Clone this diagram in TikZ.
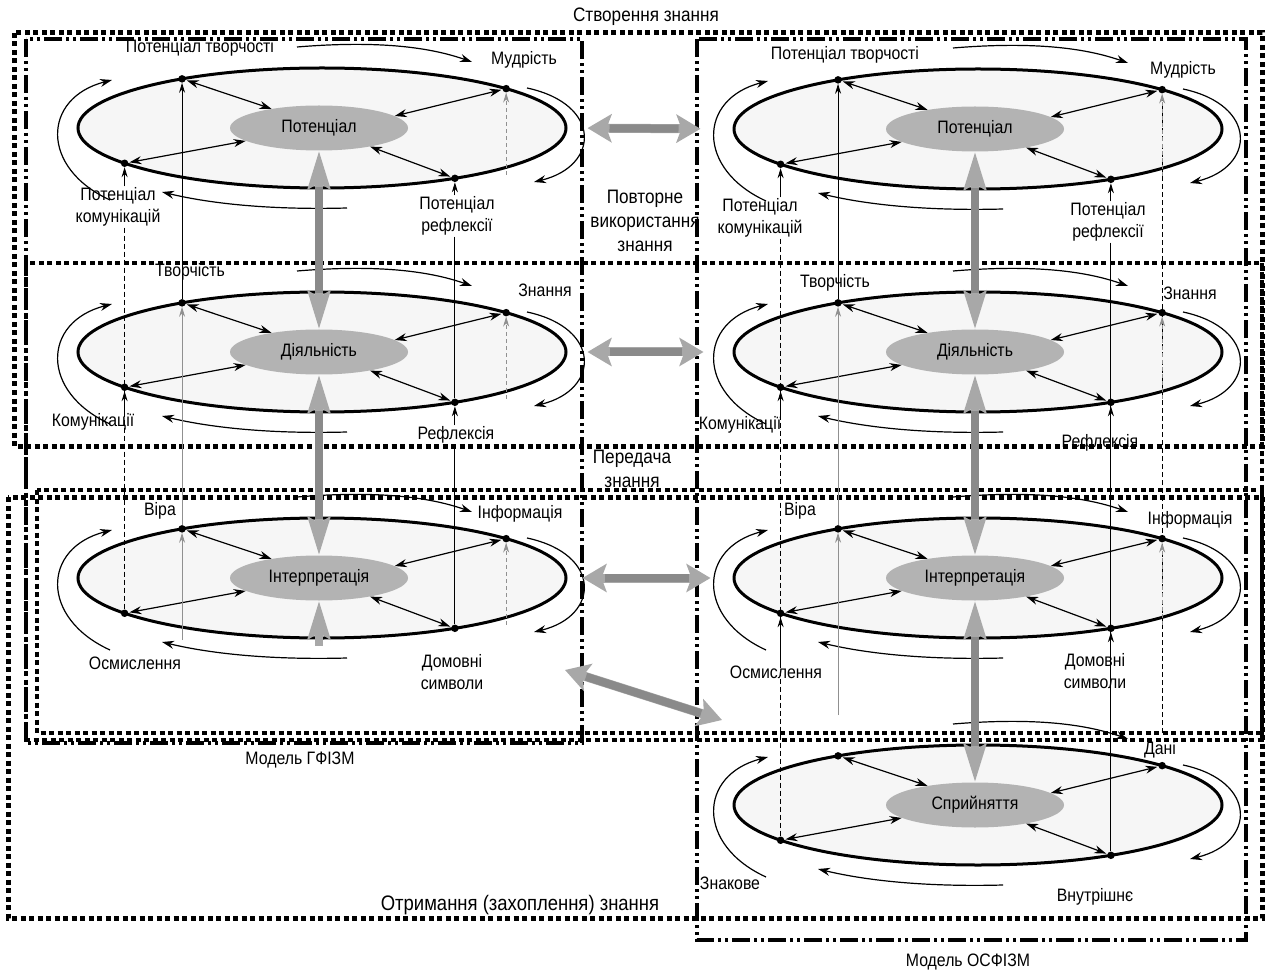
\documentclass[tikz,border=0pt]{standalone}
\usepackage{fontspec}
\setmainfont[FakeStretch=0.88]{Liberation Sans}
\usetikzlibrary{arrows.meta,shapes.geometric,calc}
\definecolor{innergray}{HTML}{B3B3B3}
\definecolor{outerfill}{HTML}{F6F6F6}
\definecolor{headgray}{HTML}{A8A8A8}
\definecolor{shaftgray}{HTML}{8A8A8A}
\definecolor{lgray}{HTML}{909090}
\tikzset{
 lab/.style={font=\fontsize{18}{22}\selectfont, inner sep=1pt, align=center},
 biglab/.style={font=\fontsize{19.5}{24}\selectfont, inner sep=1pt, align=center},
 outer/.style={ellipse, draw, line width=3pt, fill=outerfill, minimum width=488pt, minimum height=120pt, inner sep=0pt},
 inner/.style={ellipse, fill=innergray, minimum width=178pt, minimum height=45pt, inner sep=0pt, font=\fontsize{18}{20}\selectfont},
 dot/.style={circle, fill=black, minimum size=7.5pt, inner sep=0pt},
 dbl/.style={line width=1.2pt, shorten <=1pt, {Stealth[length=12pt,width=8pt]}-{Stealth[length=12pt,width=8pt]}},
 rot/.style={line width=1.2pt, -{Stealth[length=12pt,width=8pt]}},
 thinar/.style={line width=0.9pt, -{Stealth[length=10pt,width=6pt]}},
 thinln/.style={line width=0.9pt},
 grayar/.style={line width=0.9pt, draw=lgray, -{Stealth[length=10pt,width=6pt]}},
 graydash/.style={line width=0.9pt, draw=lgray, dash pattern=on 4pt off 3pt, -{Stealth[length=10pt,width=6pt]}},
 dashln/.style={line width=0.9pt, dash pattern=on 5pt off 3pt},
 procbox/.style={line width=5pt, dash pattern=on 5pt off 3.5pt},
 procboxthin/.style={line width=4pt, dash pattern=on 5pt off 3.5pt},
 modelbox/.style={line width=3.6pt, dash pattern=on 18pt off 4pt on 3pt off 4pt on 3pt off 4pt},
 bigarr/.style={line width=8pt, draw=headgray, {Stealth[length=38pt,width=22pt,inset=6pt]}-{Stealth[length=38pt,width=22pt,inset=6pt]}},
 bigarrh/.style={line width=9pt, draw=headgray, {Stealth[length=24pt,width=28pt,inset=5pt]}-{Stealth[length=24pt,width=28pt,inset=5pt]}},
 bigone/.style={line width=8pt, draw=headgray, -{Stealth[length=38pt,width=22pt,inset=6pt]}},
 shaft/.style={line width=8pt, draw=shaftgray},
}
\newcommand\knrow[4]{%
 \node[outer] (#1o) at (#2,#3) {};
 \draw[rot] ({#2-25},{#3-81}) .. controls ({#2+60},{#3-88}) and ({#2+110},{#3-80}) .. ({#2+150},{#3-66});
 \draw[rot] ({#2+205},{#3-40}) .. controls ({#2+280},{#3-24}) and ({#2+278},{#3+38}) .. ({#2+212},{#3+54});
 \draw[rot] ({#2+25},{#3+80}) .. controls ({#2-50},{#3+82}) and ({#2-110},{#3+76}) .. ({#2-160},{#3+64});
 \draw[rot] ({#2-212},{#3+72}) .. controls ({#2-282},{#3+40}) and ({#2-280},{#3-30}) .. ({#2-210},{#3-48});
 \node[inner] (#1i) at ({#2-3},#3) {#4};
 \node[dot] (#1tl) at ({#2+244*cos(125)},{#3-60*sin(125)}) {};
 \node[dot] (#1tr) at ({#2+244*cos(41)},{#3-60*sin(41)}) {};
 \node[dot] (#1bl) at ({#2+244*cos(216)},{#3-60*sin(216)}) {};
 \node[dot] (#1br) at ({#2+244*cos(303)},{#3-60*sin(303)}) {};
 \draw[dbl] (#1tl) -- (#1i.158);
 \draw[dbl] (#1tr) -- (#1i.9);
 \draw[dbl] (#1bl) -- (#1i.190);
 \draw[dbl] (#1br) -- (#1i.340);
}
\begin{document}
\begin{tikzpicture}[x=1pt,y=-1pt]
\useasboundingbox (0,0) rectangle (1266,973);
% process boxes
\draw[procbox] (14,33) rectangle (1262,446);
\draw[procboxthin] (26,263) rectangle (1262,740);
\draw[procboxthin] (37,490) rectangle (1262,733);
\draw[procbox] (8,497) rectangle (1262,918);
% model boxes
\draw[modelbox] (26,39) rectangle (582,743);
\draw[modelbox] (697,39) rectangle (1246,940);
% rows
\knrow{a1}{322}{128}{Потенціал}
\knrow{a2}{322}{352}{Діяльність}
\knrow{a3}{322}{578}{Інтерпретація}
\knrow{b1}{978}{129}{Потенціал}
\knrow{b2}{978}{352}{Діяльність}
\knrow{b3}{978}{578}{Інтерпретація}
\knrow{b4}{978}{805}{Сприйняття}
% labels left model
\node[lab] (a1tlL) at (200,48) {Потенціал творчості};
\node[lab] (a1trL) at (524,60) {Мудрість};
\node[lab] (a1blL) at (118,207) {Потенціал\\комунікацій};
\node[lab] (a1brL) at (457,216) {Потенціал\\рефлексії};
\node[lab] (a2tlL) at (190,272) {Творчість};
\node[lab] (a2trL) at (545,290) {Знання};
\node[lab] (a2blL) at (93,422) {Комунікації};
\node[lab,fill=white] (a2brL) at (456,435) {Рефлексія};
\node[lab] (a3tlL) at (160,511) {Віра};
\node[lab] (a3trL) at (520,514) {Інформація};
\node[lab] (a3blL) at (135,663) {Осмислення};
\node[lab] (a3brL) at (452,672) {Домовні\\символи};
% labels right model
\node[lab] (b1tlL) at (845,55) {Потенціал творчості};
\node[lab] (b1trL) at (1183,70) {Мудрість};
\node[lab] (b1blL) at (760,218) {Потенціал\\комунікацій};
\node[lab] (b1brL) at (1108,222) {Потенціал\\рефлексії};
\node[lab] (b2tlL) at (835,283) {Творчість};
\node[lab] (b2trL) at (1190,293) {Знання};
\node[lab] (b2blL) at (740,425) {Комунікації};
\node[lab] (b2brL) at (1100,443) {Рефлексія};
\node[lab] (b3tlL) at (800,511) {Віра};
\node[lab] (b3trL) at (1190,520) {Інформація};
\node[lab] (b3blL) at (776,672) {Осмислення};
\node[lab] (b3brL) at (1095,671) {Домовні\\символи};
\node[lab] (b4trL) at (1160,750) {Дані};
\node[lab] (b4blL) at (730,883) {Знакове};
\node[lab] (b4brL) at (1095,897) {Внутрішнє};
% vertical connectors, left model
\draw[thinar] (a2tl) -- (a1tl);
\draw[grayar] (a3tl) -- (a2tl);
\draw[grayar] (a3tl |- 0,640) -- (a3tl);
\draw[dashln] (a1bl |- a1blL.south) -- (a3bl);
\draw[thinar] (a1bl |- a1blL.north) -- (a1bl);
\draw[thinar] (a2bl |- a2blL.north) -- (a2bl);
\draw[thinln] (a1br |- a1brL.south) -- (a2br);
\draw[thinln] (a2br |- a2brL.south) -- (a3br);
\draw[thinar] (a1br |- a1brL.north) -- (a1br);
\draw[thinar] (a2br |- a2brL.north) -- (a2br);
\draw[graydash] ([yshift=-86pt]a1tr.center) -- (a1tr);
\draw[graydash] ([yshift=-86pt]a2tr.center) -- (a2tr);
\draw[graydash] ([yshift=-86pt]a3tr.center) -- (a3tr);
% vertical connectors, right model
\draw[thinar] (b2tl) -- (b1tl);
\draw[grayar] (b3tl) -- (b2tl);
\draw[grayar] (b3tl |- 0,715) -- (b3tl);
\draw[dashln] (b1bl |- b1blL.south) -- (b4bl);
\draw[thinar] (b1bl |- b1blL.north) -- (b1bl);
\draw[thinar] (b2bl |- b2blL.north) -- (b2bl);
\draw[thinar] (b3bl |- b3blL.north) -- (b3bl);
\draw[thinln] (b1br |- b1brL.south) -- (b4br);
\draw[thinar] (b1br |- b1brL.north) -- (b1br);
\draw[thinar] (b2br |- b2brL.north) -- (b2br);
\draw[thinar] (b3br |- b3brL.north) -- (b3br);
\draw[dashln] (b1tr |- 0,733) -- (b1tr);
\draw[graydash] ([yshift=-86pt]b1tr.center) -- (b1tr);
\draw[graydash] ([yshift=-86pt]b2tr.center) -- (b2tr);
\draw[graydash] ([yshift=-86pt]b3tr.center) -- (b3tr);
% big gray arrows, vertical
\foreach \u/\v in {a1/a2,a2/a3,b1/b2,b2/b3,b3/b4}{
 \draw[bigarr] (\u i.south) -- (\v i.north);
 \draw[shaft, shorten <=36pt, shorten >=36pt] (\u i.south) -- (\v i.north);
}
\coordinate (a3stub) at (a3i.south |- 0,646);
\draw[bigone] (a3stub) -- (a3i.south);
% big gray arrows, horizontal
\draw[bigarrh, shorten <=20pt, shorten >=32pt] (a1o.east) -- (b1o.west);
\draw[shaft, shorten <=42pt, shorten >=54pt] (a1o.east) -- (b1o.west);
\draw[bigarrh, shorten <=20pt, shorten >=29pt] (a2o.east) -- (b2o.west);
\draw[shaft, shorten <=42pt, shorten >=51pt] (a2o.east) -- (b2o.west);
\draw[bigarrh, shorten <=15pt, shorten >=22pt] (a3o.east) -- (b3o.west);
\draw[shaft, shorten <=37pt, shorten >=44pt] (a3o.east) -- (b3o.west);
\coordinate (dgA) at (565,670);
\coordinate (dgB) at (722,720);
\draw[bigarrh] (dgA) -- (dgB);
\draw[shaft, shorten <=22pt, shorten >=22pt] (dgA) -- (dgB);
% process and model labels
\node[biglab] (tCreate) at (646,17) {Створення знання};
\node[biglab] (tReuse) at (645,221) {Повторне\\використання\\знання};
\node[biglab] (tTrans) at (632,469) {Передача\\знання};
\node[biglab, font=\fontsize{21}{24}\selectfont] (tCapt) at (520,905) {Отримання (захоплення) знання};
\node[lab] (tGF) at (300,760) {Модель ГФІЗМ};
\node[lab] (tOS) at (968,962) {Модель ОСФІЗМ};
\end{tikzpicture}
\end{document}
